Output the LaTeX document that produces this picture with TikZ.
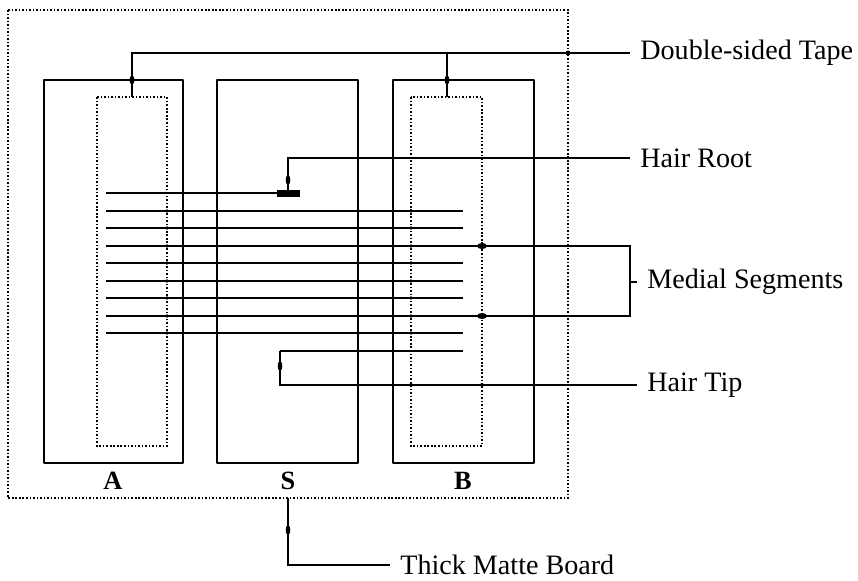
\documentclass[tikz,border=0pt]{standalone}
\usepackage{fontspec}
\setmainfont{Liberation Serif}
\begin{document}
\begin{tikzpicture}[x=0.02cm, y=-0.02cm,
  panneau/.style={line width=1.5pt, line join=round},
  cheveu/.style={line width=1.4pt},
  trait/.style={line width=1pt},
  pointille/.style={line width=1.3pt, dash pattern=on 0.9pt off 1.1pt},
  etiquette/.style={anchor=west, inner xsep=0.2cm, inner ysep=0pt, font=\fontsize{16}{19}\selectfont},
  lettre/.style={inner sep=0pt, font=\fontsize{15}{18}\selectfont\bfseries}]
  % Cadre de la page
  \useasboundingbox (0,0) rectangle (858,581);

  % Carton épais (bord pointillé)
  \draw[pointille, line width=1.6pt] (8,10) rectangle (568,498);

  % Bandes de ruban adhésif (pointillé) sur A et B
  \draw[pointille] (97,97) rectangle (167,446);
  \draw[pointille] (411,97) rectangle (482,446);

  % Les trois plaques A, S, B
  \draw[panneau] (44,80) rectangle (183,463);
  \draw[panneau] (217,80) rectangle (358,463);
  \draw[panneau] (393,80) rectangle (534,463);

  % Lettres sous les plaques
  \node[lettre] (labA) at (113,481) {A};
  \node[lettre] (labS) at (288,481) {S};
  \node[lettre] (labB) at (463,481) {B};

  % Cheveux tendus entre A et B
  \foreach \y in {211,228,246,263,281,298,316,333}
    \draw[cheveu] (106,\y) -- (463,\y);

  % Points de croisement
  \foreach \y in {211,228,246,263,281,298,316,333}
    \foreach \x in {167,183,217,358,393,411}
      \fill (\x,\y) circle (1.8);

  % Cheveu avec la racine
  \draw[cheveu] (106,193) -- (300,193);
  \fill (277,190) rectangle (300,196.5);

  % Cheveu replié avec la pointe
  \draw[cheveu] (280,351) -- (463,351);

  % Étiquettes à droite
  \node[etiquette] (ruban) at (630,53) {Double-sided Tape};
  \node[etiquette] (racine) at (630,158) {Hair Root};
  \node[etiquette] (medial) at (637,282) {Medial Segments};
  \node[etiquette] (pointe) at (637,385) {Hair Tip};
  \node[etiquette] (carton) at (390,565) {Thick Matte Board};

  % Renvoi vers le ruban adhésif
  \draw[trait] (132,97) |- (ruban.west);
  \draw[trait] (447,97) -- (447,53);
  \fill (132,80) ellipse (2.5 and 4.5);
  \fill (447,80) ellipse (2.5 and 4.5);
  \fill (568,53) circle (2.5);

  % Renvoi vers la racine
  \draw[trait] (288,193) |- (racine.west);
  \fill (288,180) ellipse (2.3 and 5);

  % Accolade des segments médians
  \draw[trait] (463,246) -| (630,316) -- (463,316);
  \draw[trait] (630,282) -- (medial.west);
  \fill (482,246) ellipse (5 and 3);
  \fill (482,316) ellipse (5 and 3);

  % Renvoi vers la pointe
  \draw[trait] (280,351) |- (pointe.west);
  \fill (280,366) ellipse (2.3 and 5);
  \fill (411,385) circle (2);
  \fill (482,385) circle (2);

  % Renvoi vers le carton
  \draw[trait] (288,498) |- (carton.west);
  \fill (288,530) ellipse (2.3 and 5);
\end{tikzpicture}
\end{document}
